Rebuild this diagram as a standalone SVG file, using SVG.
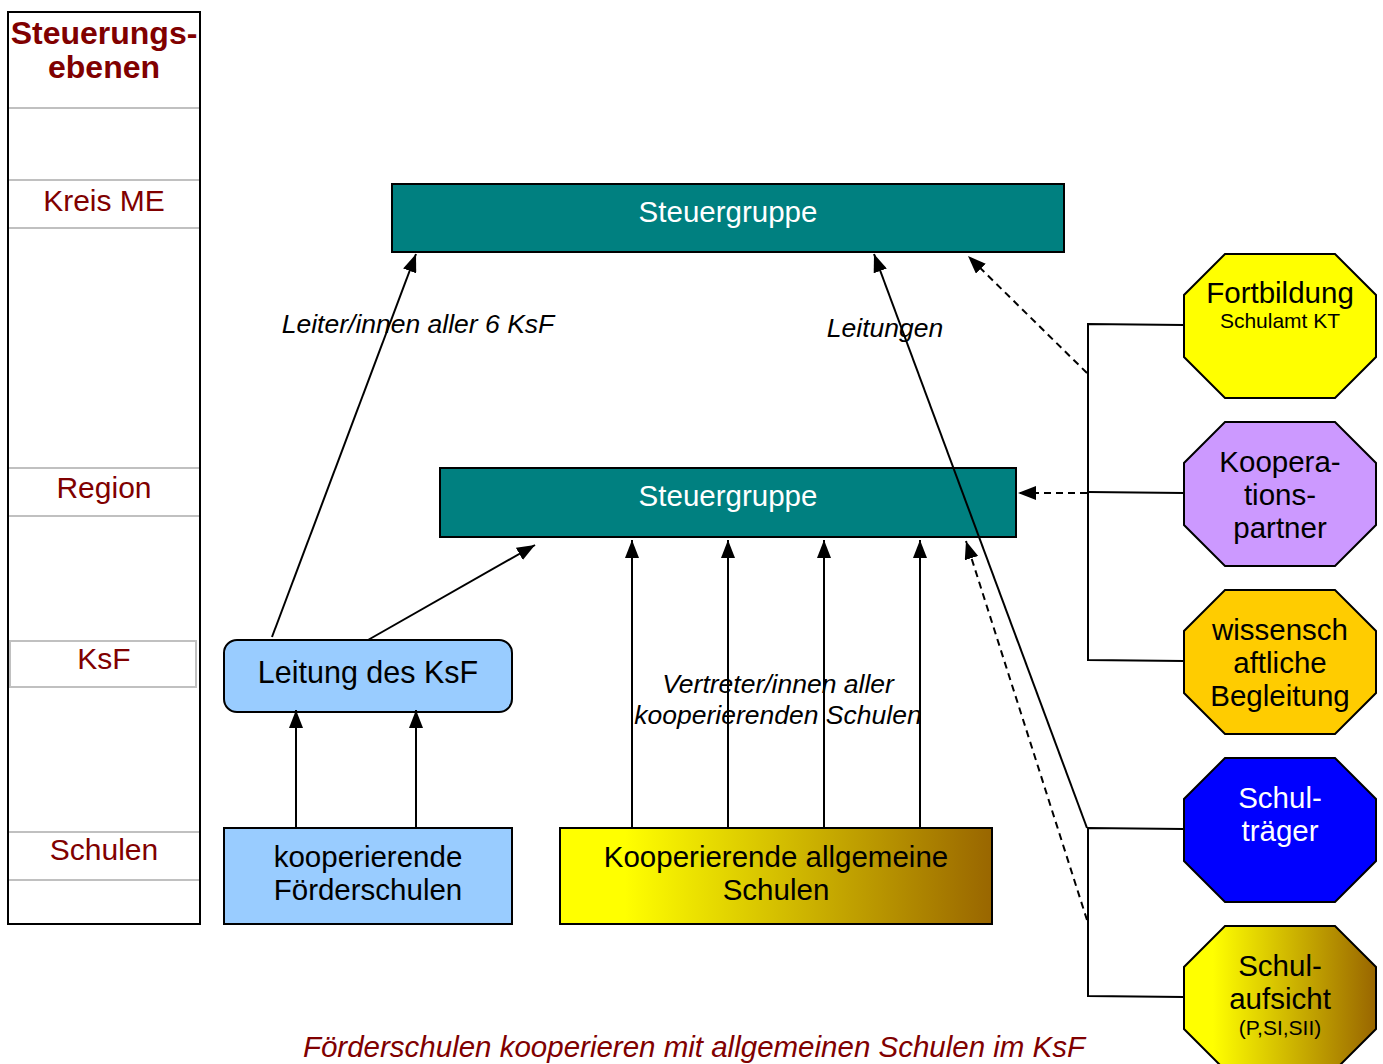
<svg xmlns="http://www.w3.org/2000/svg" width="1383" height="1064" viewBox="0 0 1383 1064">
<style>
text{font-family:"Liberation Sans",Arial,sans-serif;}
.lvl{fill:#800000;font-size:30px;text-anchor:middle;}
.ttl{font-size:32px;font-weight:bold;}
.sep{stroke:#C0C0C0;stroke-width:2;}
.box{stroke:#000;stroke-width:2;}
.t{font-size:29.5px;text-anchor:middle;fill:#000;}
.t30{font-size:30.5px;}
.w{fill:#fff;}
.sm{font-size:21px;text-anchor:middle;}
.lbl{font-size:26.5px;font-style:italic;text-anchor:middle;fill:#000;}
.ln{stroke:#000;stroke-width:2;fill:none;}
.dash{stroke-dasharray:7 5;}
</style>
<defs>
<marker id="ah" viewBox="0 0 18 14" refX="18" refY="7" markerWidth="18" markerHeight="14" orient="auto" markerUnits="userSpaceOnUse"><path d="M0,0 L18,7 L0,14 z" fill="#000"/></marker>
<linearGradient id="gy" x1="0" y1="0" x2="1" y2="0"><stop offset="0" stop-color="#FFFF00"/><stop offset="0.15" stop-color="#FFFF00"/><stop offset="1" stop-color="#996600"/></linearGradient>
</defs>
<rect width="1383" height="1064" fill="#fff"/>

<g id="levels">
<rect x="8" y="12" width="192" height="912" fill="#fff" stroke="#000" stroke-width="2"/>
<line class="sep" x1="9" y1="108" x2="199" y2="108"/>
<line class="sep" x1="9" y1="180" x2="199" y2="180"/>
<line class="sep" x1="9" y1="228" x2="199" y2="228"/>
<line class="sep" x1="9" y1="468" x2="199" y2="468"/>
<line class="sep" x1="9" y1="516" x2="199" y2="516"/>
<rect x="10" y="641" width="186" height="46" fill="none" stroke="#C0C0C0" stroke-width="2"/>
<line class="sep" x1="9" y1="832" x2="199" y2="832"/>
<line class="sep" x1="9" y1="880" x2="199" y2="880"/>
<text class="lvl ttl" x="104" y="44">Steuerungs-</text>
<text class="lvl ttl" x="104" y="78">ebenen</text>
<text class="lvl" x="104" y="211">Kreis ME</text>
<text class="lvl" x="104" y="498">Region</text>
<text class="lvl" x="104" y="669">KsF</text>
<text class="lvl" x="104" y="860">Schulen</text>
</g>

<g id="sg-top">
<rect class="box" x="392" y="184" width="672" height="68" fill="#008080"/>
<text class="t w" x="728" y="222">Steuergruppe</text>
</g>
<g id="sg-region">
<rect class="box" x="440" y="468" width="576" height="69" fill="#008080"/>
<text class="t w" x="728" y="506">Steuergruppe</text>
</g>
<g id="leitung">
<rect class="box" x="224" y="640" width="288" height="72" rx="13" fill="#99CCFF"/>
<text class="t t30" x="368" y="683">Leitung des KsF</text>
</g>
<g id="foerderschulen">
<rect class="box" x="224" y="828" width="288" height="96" fill="#99CCFF"/>
<text class="t" x="368" y="867">kooperierende</text>
<text class="t" x="368" y="900">Förderschulen</text>
</g>
<g id="allgemeine">
<rect class="box" x="560" y="828" width="432" height="96" fill="url(#gy)"/>
<text class="t" x="776" y="867">Kooperierende allgemeine</text>
<text class="t" x="776" y="900">Schulen</text>
</g>

<g id="fortbildung">
<polygon class="box" points="1225,254 1335,254 1376,295 1376,357 1335,398 1225,398 1184,357 1184,295" fill="#FFFF00"/>
<text class="t" x="1280" y="303">Fortbildung</text>
<text class="sm" x="1280" y="328">Schulamt KT</text>
</g>
<g id="kooperationspartner">
<polygon class="box" points="1225,422 1335,422 1376,463 1376,525 1335,566 1225,566 1184,525 1184,463" fill="#CC99FF"/>
<text class="t" x="1280" y="472">Koopera-</text>
<text class="t" x="1280" y="505">tions-</text>
<text class="t" x="1280" y="538">partner</text>
</g>
<g id="wissenschaft">
<polygon class="box" points="1225,590 1335,590 1376,631 1376,693 1335,734 1225,734 1184,693 1184,631" fill="#FFCC00"/>
<text class="t" x="1280" y="640">wissensch</text>
<text class="t" x="1280" y="673">aftliche</text>
<text class="t" x="1280" y="706">Begleitung</text>
</g>
<g id="schultraeger">
<polygon class="box" points="1225,758 1335,758 1376,799 1376,861 1335,902 1225,902 1184,861 1184,799" fill="#0000FF"/>
<text class="t w" x="1280" y="808">Schul-</text>
<text class="t w" x="1280" y="841">träger</text>
</g>
<g id="schulaufsicht">
<polygon class="box" points="1225,926 1335,926 1376,967 1376,1029 1335,1070 1225,1070 1184,1029 1184,967" fill="url(#gy)"/>
<text class="t" x="1280" y="976">Schul-</text>
<text class="t" x="1280" y="1009">aufsicht</text>
<text class="sm" x="1280" y="1035">(P,SI,SII)</text>
</g>

<g id="connectors">
<line class="ln" x1="272" y1="637" x2="416" y2="254" marker-end="url(#ah)"/>
<line class="ln" x1="368" y1="640" x2="535" y2="545" marker-end="url(#ah)"/>
<line class="ln" x1="296" y1="828" x2="296" y2="710" marker-end="url(#ah)"/>
<line class="ln" x1="416" y1="828" x2="416" y2="710" marker-end="url(#ah)"/>
<line class="ln" x1="632" y1="828" x2="632" y2="540" marker-end="url(#ah)"/>
<line class="ln" x1="728" y1="828" x2="728" y2="540" marker-end="url(#ah)"/>
<line class="ln" x1="824" y1="828" x2="824" y2="540" marker-end="url(#ah)"/>
<line class="ln" x1="920" y1="828" x2="920" y2="540" marker-end="url(#ah)"/>
<line class="ln" x1="1087" y1="828" x2="874" y2="254" marker-end="url(#ah)"/>
<line class="ln dash" x1="1087" y1="373" x2="968" y2="256" marker-end="url(#ah)"/>
<line class="ln dash" x1="1087" y1="493" x2="1018" y2="493" marker-end="url(#ah)"/>
<line class="ln dash" x1="1087" y1="920" x2="966" y2="541" marker-end="url(#ah)"/>
<polyline class="ln" points="1184,325 1088,324 1088,660 1184,661"/>
<line class="ln" x1="1088" y1="492" x2="1184" y2="493"/>
<polyline class="ln" points="1184,829 1088,828 1088,996 1184,997"/>
</g>

<g id="labels">
<text class="lbl" x="418" y="333">Leiter/innen aller 6 KsF</text>
<text class="lbl" x="885" y="337">Leitungen</text>
<text class="lbl" x="778" y="693">Vertreter/innen aller</text>
<text class="lbl" x="778" y="724">kooperierenden Schulen</text>
<text x="694" y="1057" font-size="29.5" font-style="italic" fill="#800000" text-anchor="middle">Förderschulen kooperieren mit allgemeinen Schulen im KsF</text>
</g>
</svg>
